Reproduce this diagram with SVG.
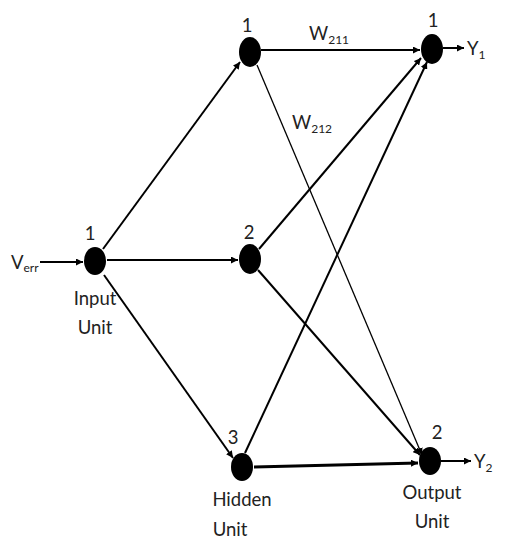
<svg xmlns="http://www.w3.org/2000/svg" width="509" height="542" viewBox="0 0 509 542">
<style>
.n{fill:#000}
.e{stroke:#000;stroke-width:2;fill:none;marker-end:url(#a)}
.t{stroke:#000;stroke-width:1.3;fill:none;marker-end:url(#a)}
text{font-family:Lato,"Noto Sans","Liberation Sans",sans-serif;font-size:18.5px;fill:#222}
.s{font-size:12px}
</style>
<defs>
<marker id="a" viewBox="0 0 10 10" refX="10" refY="5" markerWidth="7" markerHeight="7" markerUnits="userSpaceOnUse" orient="auto">
<path d="M0,0L10,5L0,10z" fill="#000"/>
</marker>
</defs>
<rect width="509" height="542" fill="#fff"/>
<g id="connectors">
<line class="e" x1="40" y1="262" x2="83" y2="262"/>
<line class="e" x1="103" y1="249" x2="240" y2="62"/>
<line class="e" x1="107" y1="260" x2="238" y2="260"/>
<line class="e" x1="104" y1="275" x2="233" y2="458"/>
<line class="e" x1="261" y1="50" x2="420" y2="50"/>
<line class="t" x1="257" y1="65" x2="422" y2="455"/>
<line class="e" x1="259" y1="249" x2="421" y2="58"/>
<line class="e" x1="258" y1="270" x2="420" y2="455"/>
<line class="e" x1="245" y1="453" x2="427" y2="62"/>
<line class="e" x1="254" y1="467" x2="418" y2="463" style="stroke-width:3"/>
<line class="e" x1="443" y1="48" x2="464" y2="48"/>
<line class="e" x1="441" y1="461" x2="471" y2="461"/>
</g>
<g id="input">
<ellipse class="n" cx="95" cy="261" rx="11" ry="14"/>
<text x="90" y="240" text-anchor="middle">1</text>
<text x="95" y="305" text-anchor="middle">Input</text>
<text x="95" y="334" text-anchor="middle">Unit</text>
<text x="11" y="269">V<tspan class="s" dy="3">err</tspan></text>
</g>
<g id="hidden1">
<ellipse class="n" cx="250" cy="52" rx="11" ry="15"/>
<text x="247" y="32" text-anchor="middle">1</text>
</g>
<g id="hidden2">
<ellipse class="n" cx="250" cy="259" rx="11" ry="15"/>
<text x="249" y="239" text-anchor="middle">2</text>
</g>
<g id="hidden3">
<ellipse class="n" cx="242" cy="467" rx="11" ry="14"/>
<text x="233" y="444" text-anchor="middle">3</text>
<text x="242" y="506" text-anchor="middle">Hidden</text>
<text x="230" y="536" text-anchor="middle">Unit</text>
</g>
<g id="output1">
<ellipse class="n" cx="432" cy="49" rx="11" ry="15"/>
<text x="433" y="27" text-anchor="middle">1</text>
<text x="467" y="55">Y<tspan class="s" dy="4">1</tspan></text>
</g>
<g id="output2">
<ellipse class="n" cx="430" cy="461" rx="11" ry="14"/>
<text x="437" y="439" text-anchor="middle">2</text>
<text x="432" y="499" text-anchor="middle">Output</text>
<text x="432" y="528" text-anchor="middle">Unit</text>
<text x="474" y="468">Y<tspan class="s" dy="4">2</tspan></text>
</g>
<g id="labels">
<text x="309" y="40">W<tspan class="s" dy="4">211</tspan></text>
<text x="292" y="129">W<tspan class="s" dy="4">212</tspan></text>
</g>
</svg>
